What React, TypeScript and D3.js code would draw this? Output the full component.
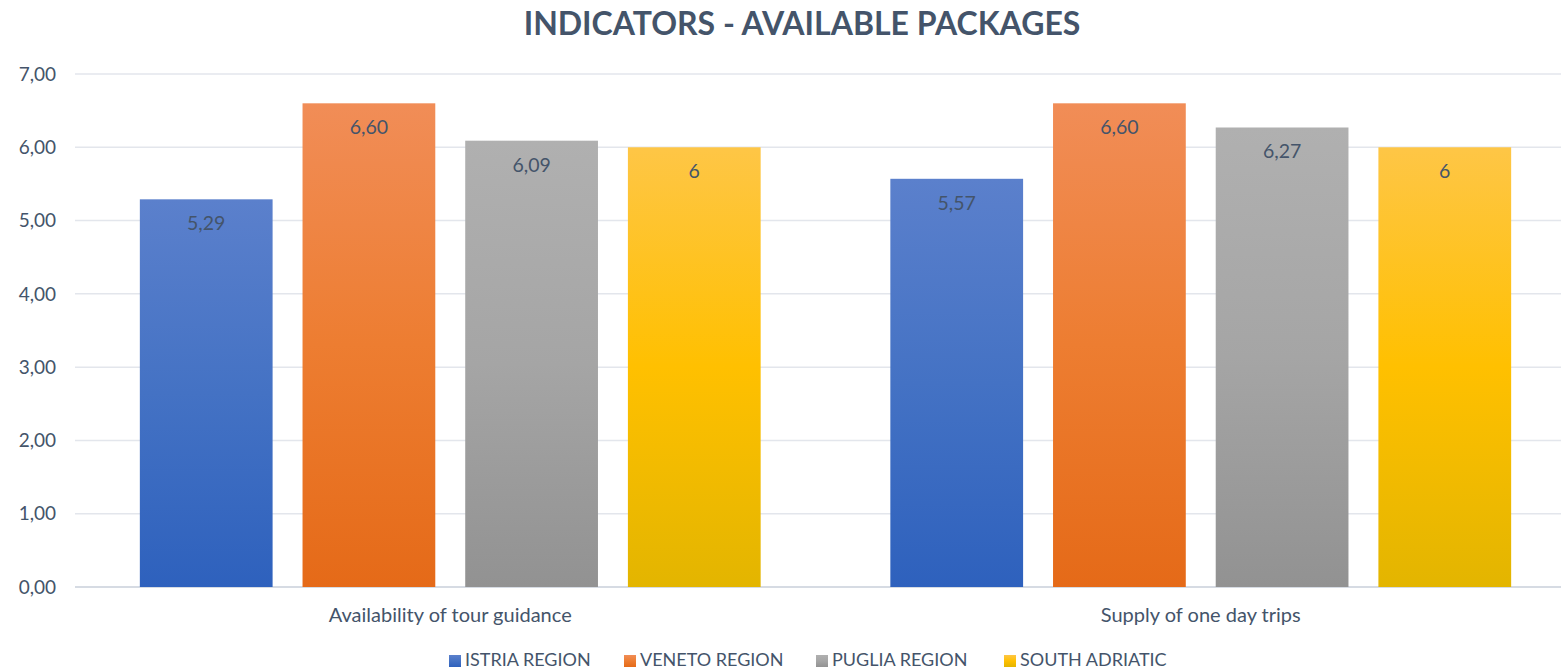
import React from "react";
import * as d3 from "d3";

const categories = ["Availability of tour guidance", "Supply of one day trips"];
const seriesNames = ["ISTRIA REGION", "VENETO REGION", "PUGLIA REGION", "SOUTH ADRIATIC"];
const istria = [5.29, 5.57];
const veneto = [6.6, 6.6];
const puglia = [6.09, 6.27];
const southAdriatic = [6, 6];
const valueLabels = [
  ["5,29", "5,57"],
  ["6,60", "6,60"],
  ["6,09", "6,27"],
  ["6", "6"],
];
const yTicks = [0, 1, 2, 3, 4, 5, 6, 7];
const yTickLabels = ["0,00", "1,00", "2,00", "3,00", "4,00", "5,00", "6,00", "7,00"];
const seriesValues = [istria, veneto, puglia, southAdriatic];
const gradients = [
  ["#5b80cc", "#4472c4", "#2e61bd"],
  ["#f18d57", "#ed7d31", "#e56a18"],
  ["#b0b0b0", "#a5a5a5", "#929292"],
  ["#fec646", "#ffc000", "#e3b500"],
];
const legendX = [449, 624, 816, 1004];

const W = 1561;
const H = 670;
const FONT = "Lato, 'Open Sans', sans-serif";
const TEXT = "#44546a";

export default function App() {
  const plotLeft = 75;
  const plotRight = 1576;
  const y = d3.scaleLinear().domain([0, 7]).range([587, 74]);
  const p = 0.1728;
  const x0 = d3
    .scaleBand<string>()
    .domain(categories)
    .range([plotLeft, plotRight])
    .paddingInner(p)
    .paddingOuter(p / 2);
  const x1 = d3
    .scaleBand<string>()
    .domain(seriesNames)
    .range([0, x0.bandwidth()])
    .paddingInner(0.184)
    .paddingOuter(0);

  return (
    <svg
      width={W}
      height={H}
      style={{ position: "absolute", left: 0, top: 0, display: "block", background: "#fff" }}
      fontFamily={FONT}
    >
      <defs>
        {gradients.map((g, i) => (
          <linearGradient key={i} id={`grad${i}`} x1="0" y1="0" x2="0" y2="1">
            <stop offset="0%" stopColor={g[0]} />
            <stop offset="50%" stopColor={g[1]} />
            <stop offset="100%" stopColor={g[2]} />
          </linearGradient>
        ))}
      </defs>
      <rect x={0} y={0} width={W} height={H} fill="#fff" />

      <text
        x={802}
        y={35}
        textAnchor="middle"
        fontWeight="bold"
        fontSize={32}
        fill={TEXT}
      >
        INDICATORS - AVAILABLE PACKAGES
      </text>

      {yTicks.map((t, i) => (
        <g key={t}>
          <line
            x1={plotLeft}
            x2={plotRight}
            y1={y(t)}
            y2={y(t)}
            stroke={t === 0 ? "#d6dbe3" : "#e3e6ec"}
            strokeWidth={t === 0 ? 2 : 1.5}
          />
          <text
            x={56}
            y={y(t)}
            dy="0.35em"
            textAnchor="end"
            fontSize={19}
            fill={TEXT}
          >
            {yTickLabels[i]}
          </text>
        </g>
      ))}

      {categories.map((c, ci) => (
        <g key={c} transform={`translate(${x0(c)},0)`}>
          {seriesNames.map((s, si) => {
            const v = seriesValues[si][ci];
            const bx = x1(s) as number;
            return (
              <g key={s}>
                <rect
                  x={bx}
                  y={y(v)}
                  width={x1.bandwidth()}
                  height={y(0) - y(v)}
                  fill={`url(#grad${si})`}
                />
                <text
                  x={bx + x1.bandwidth() / 2}
                  y={y(v) + 31}
                  textAnchor="middle"
                  fontSize={19.5}
                  fill={TEXT}
                >
                  {valueLabels[si][ci]}
                </text>
              </g>
            );
          })}
          <text
            x={x0.bandwidth() / 2}
            y={622}
            textAnchor="middle"
            fontSize={20}
            fill={TEXT}
          >
            {c}
          </text>
        </g>
      ))}

      {seriesNames.map((s, si) => (
        <g key={s}>
          <rect x={legendX[si]} y={655} width={12} height={12} fill={`url(#grad${si})`} />
          <text x={legendX[si] + 16} y={666} fontSize={18} fill={TEXT}>
            {s}
          </text>
        </g>
      ))}
    </svg>
  );
}
